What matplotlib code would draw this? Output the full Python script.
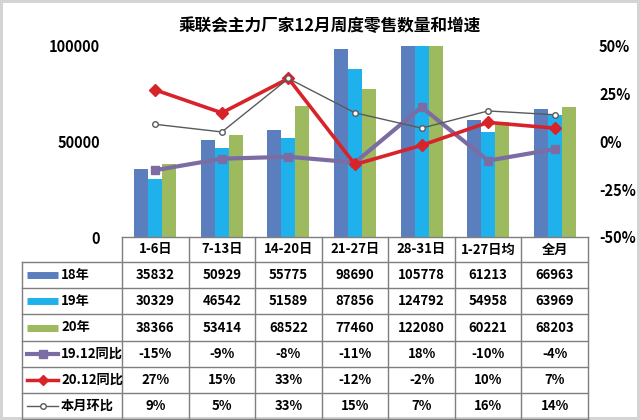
import matplotlib
matplotlib.use("Agg")
import matplotlib.pyplot as plt
import numpy as np

plt.rcParams['font.family'] = ['Noto Sans CJK SC', 'DejaVu Sans']

title = "乘联会主力厂家12月周度零售数量和增速"
categories = ["1-6日", "7-13日", "14-20日", "21-27日", "28-31日", "1-27日均", "全月"]
s18 = [35832, 50929, 55775, 98690, 105778, 61213, 66963]
s19 = [30329, 46542, 51589, 87856, 124792, 54958, 63969]
s20 = [38366, 53414, 68522, 77460, 122080, 60221, 68203]
yoy19 = [-15, -9, -8, -11, 18, -10, -4]
yoy20 = [27, 15, 33, -12, -2, 10, 7]
mom = [9, 5, 33, 15, 7, 16, 14]
bar_names = ["18年", "19年", "20年"]
line_names = ["19.12同比", "20.12同比", "本月环比"]
left_ticks = [0, 50000, 100000]
right_ticks = [-50, -25, 0, 25, 50]

c18, c19, c20 = "#5B7FBE", "#1FB1EC", "#9DBA5E"
cy19, cy20, cmom = "#7B6CA3", "#D8232A", "#5A5A5A"

W, H = 640, 420
fig = plt.figure(figsize=(W / 100, H / 100), dpi=100)
fig.patch.set_edgecolor("#d4d4d4")
fig.patch.set_linewidth(3)

x0, x1 = 122, 588
ybot, ytop = 237, 46
ax = fig.add_axes([x0 / W, (H - ybot) / H, (x1 - x0) / W, (ybot - ytop) / H])
x = np.arange(len(categories))
bw = 0.21
ax.bar(x - bw, s18, bw, color=c18, zorder=2)
ax.bar(x, s19, bw, color=c19, zorder=2)
ax.bar(x + bw, s20, bw, color=c20, zorder=2)
ax.set_xlim(-0.5, len(categories) - 0.5)
ax.set_ylim(0, 100000)
ax.set_yticks(left_ticks)
ax.set_yticklabels([str(v) for v in left_ticks], fontsize=10.5, fontweight='bold')
ax.tick_params(axis='y', length=0, pad=16)
ax.set_xticks([])
for s in ax.spines.values():
    s.set_visible(False)

ax2 = ax.twinx()
ax2.plot(x, yoy19, color=cy19, lw=3, marker='s', ms=6, zorder=3)
ax2.plot(x, yoy20, color=cy20, lw=2.6, marker='D', ms=6, zorder=4)
ax2.plot(x, mom, color=cmom, lw=1, marker='o', ms=4, mfc='white', mec=cmom, zorder=5)
ax2.set_ylim(-50, 50)
ax2.set_yticks(right_ticks)
ax2.set_yticklabels([f"{v}%" for v in right_ticks], fontsize=10.5, fontweight='bold')
ax2.tick_params(axis='y', length=0, pad=8)
for s in ax2.spines.values():
    s.set_visible(False)

fig.text(330 / W, (H - 26) / H, title, ha='center', va='center', fontsize=12, fontweight='bold')

# table overlay
tax = fig.add_axes([0, 0, 1, 1])
tax.set_xlim(0, W)
tax.set_ylim(H, 0)
tax.axis('off')
lc = "#7f7f7f"
lx0 = 22
cw = (x1 - x0) / len(categories)
header_top, header_bot = 237, 262
rh = 26.2
nrows = 6
rows_top = [header_bot + i * rh for i in range(nrows + 1)]
# horizontal lines
tax.plot([x0, x1], [header_top, header_top], color=lc, lw=1)
for yy in rows_top:
    tax.plot([lx0, x1], [yy, yy], color=lc, lw=1)
# vertical lines
tax.plot([lx0, lx0], [header_bot, rows_top[-1]], color=lc, lw=1)
for i in range(len(categories) + 1):
    xx = x0 + i * cw
    tax.plot([xx, xx], [header_top, rows_top[-1]], color=lc, lw=1)

for i, c in enumerate(categories):
    tax.text(x0 + (i + 0.5) * cw, (header_top + header_bot) / 2, c, ha='center', va='center',
             fontsize=9.5, fontweight='bold')

table_rows = [
    [str(v) for v in s18],
    [str(v) for v in s19],
    [str(v) for v in s20],
    [f"{v}%" for v in yoy19],
    [f"{v}%" for v in yoy20],
    [f"{v}%" for v in mom],
]
for r, vals in enumerate(table_rows):
    yc = (rows_top[r] + rows_top[r + 1]) / 2
    for i, v in enumerate(vals):
        tax.text(x0 + (i + 0.5) * cw, yc, v, ha='center', va='center', fontsize=9.5, fontweight='bold')

# legend column
names = bar_names + line_names
for r, nm in enumerate(names):
    yc = (rows_top[r] + rows_top[r + 1]) / 2
    sx0, sx1 = 27, 58
    if r < 3:
        col = [c18, c19, c20][r]
        tax.plot([sx0, sx1], [yc, yc], color=col, lw=5, solid_capstyle='butt')
    elif r == 3:
        tax.plot([sx0, sx1], [yc, yc], color=cy19, lw=3)
        tax.plot([(sx0 + sx1) / 2], [yc], marker='s', ms=6, color=cy19)
    elif r == 4:
        tax.plot([sx0, sx1], [yc, yc], color=cy20, lw=2.5)
        tax.plot([(sx0 + sx1) / 2], [yc], marker='D', ms=5, color=cy20)
    else:
        tax.plot([sx0, sx1], [yc, yc], color=cmom, lw=1)
        tax.plot([(sx0 + sx1) / 2], [yc], marker='o', ms=4, mfc='white', mec=cmom)
    tax.text(61, yc, nm, ha='left', va='center', fontsize=9.5, fontweight='bold')

fig.savefig("out.png", dpi=100)
